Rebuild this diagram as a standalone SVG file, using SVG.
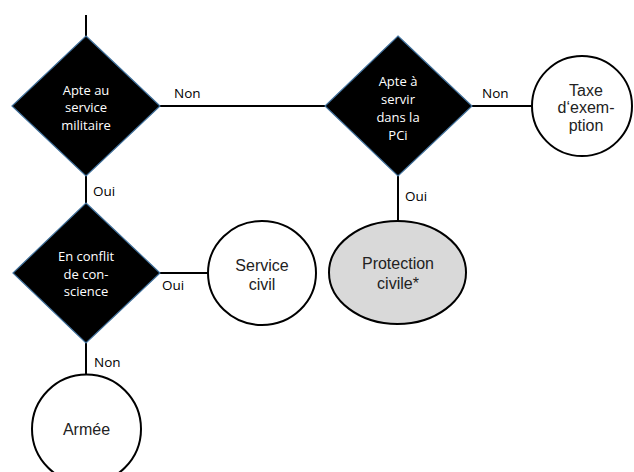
<svg xmlns="http://www.w3.org/2000/svg" width="634" height="472" viewBox="0 0 634 472">
<style>
.dia{fill:#000;stroke:#41719c;stroke-width:1.2}
.dt{fill:#fff;font-family:"Open Sans","Liberation Sans",sans-serif;font-size:13px;text-anchor:middle}
.circ{fill:#fff;stroke:#000;stroke-width:2}
.gray{fill:#d9d9d9;stroke:#000;stroke-width:2}
.ct{fill:#222;font-family:"Liberation Sans",Arial,sans-serif;font-size:16px;text-anchor:middle}
.lbl{fill:#000;font-family:"Open Sans","Liberation Sans",sans-serif;font-size:13.5px}
.ln{stroke:#000;stroke-width:2;fill:none}
</style>
<rect width="634" height="472" fill="#fff"/>
<g id="connectors">
<line class="ln" x1="86" y1="15" x2="86" y2="36"/>
<line class="ln" x1="159" y1="106" x2="325" y2="106"/>
<line class="ln" x1="472" y1="106" x2="532" y2="106"/>
<line class="ln" x1="398" y1="176" x2="398" y2="221"/>
<line class="ln" x1="86" y1="176" x2="86" y2="203"/>
<line class="ln" x1="160" y1="273" x2="208" y2="273"/>
<line class="ln" x1="86" y1="343" x2="86" y2="375"/>
<text class="lbl" x="174" y="98">Non</text>
<text class="lbl" x="482" y="98">Non</text>
<text class="lbl" x="405" y="201">Oui</text>
<text class="lbl" x="93" y="196">Oui</text>
<text class="lbl" x="162" y="290">Oui</text>
<text class="lbl" x="94" y="367">Non</text>
</g>
<g id="d1">
<polygon class="dia" points="86,36 160,106 86,176 12,106"/>
<text class="dt" x="86" y="95">Apte au</text>
<text class="dt" x="86" y="112">service</text>
<text class="dt" x="86" y="130">militaire</text>
</g>
<g id="d2">
<polygon class="dia" points="398,36 472,106 398,176 325,106"/>
<text class="dt" x="398" y="86">Apte à</text>
<text class="dt" x="398" y="104">servir</text>
<text class="dt" x="398" y="122">dans la</text>
<text class="dt" x="398" y="140">PCi</text>
</g>
<g id="taxe">
<circle class="circ" cx="582" cy="106" r="50"/>
<text class="ct" x="586" y="96">Taxe</text>
<text class="ct" x="586" y="113">d‘exem-</text>
<text class="ct" x="586" y="131">ption</text>
</g>
<g id="pci">
<ellipse class="gray" cx="397.5" cy="272.5" rx="68.5" ry="51.5"/>
<text class="ct" x="398" y="269">Protection</text>
<text class="ct" x="398" y="289">civile*</text>
</g>
<g id="d3">
<polygon class="dia" points="86,203 160,273 86,343 13,273"/>
<text class="dt" x="86" y="261">En conflit</text>
<text class="dt" x="86" y="279">de con-</text>
<text class="dt" x="86" y="296">science</text>
</g>
<g id="zivil">
<ellipse class="circ" cx="262" cy="273" rx="54" ry="52"/>
<text class="ct" x="262" y="271">Service</text>
<text class="ct" x="262" y="290">civil</text>
</g>
<g id="armee">
<circle class="circ" cx="86.5" cy="429" r="54.5"/>
<text class="ct" x="86.5" y="435">Armée</text>
</g>
</svg>
